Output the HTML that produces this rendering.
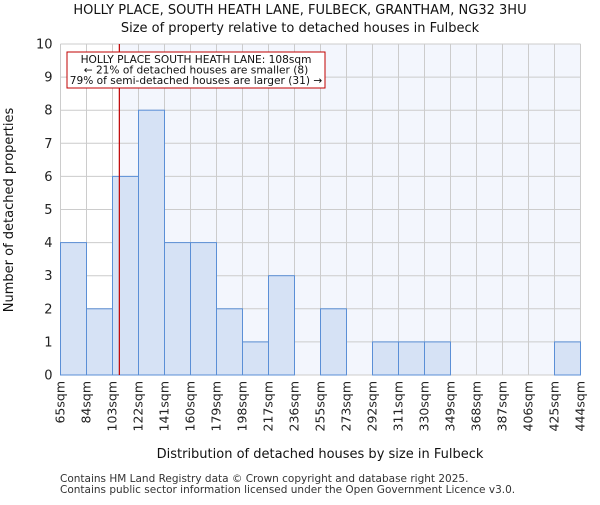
<!DOCTYPE html>
<html><head><meta charset="utf-8"><style>
body{margin:0;background:#fff}
svg{font-family:"DejaVu Sans","Liberation Sans",sans-serif}
</style></head><body>
<svg width="600" height="500">
<g id="root"></g>
</svg>
<script>
const binLabels=["65sqm","84sqm","103sqm","122sqm","141sqm","160sqm","179sqm","198sqm","217sqm","236sqm","255sqm","273sqm","292sqm","311sqm","330sqm","349sqm","368sqm","387sqm","406sqm","425sqm","444sqm"];
const counts=[4,2,6,8,4,4,2,1,3,0,2,0,1,1,1,0,0,0,0,1];
const yTicks=[0,1,2,3,4,5,6,7,8,9,10];
const binEdges=[65,84,103,122,141,160,179,198,217,236,255,273,292,311,330,349,368,387,406,425,444];
const propertySize=108;
const L=60.5,R=580.5,T=44,B=375,yMax=10;
const bw=(R-L)/counts.length;
const ns="http://www.w3.org/2000/svg";
const root=document.getElementById('root');
function y(v){return B-(v/yMax)*(B-T);}
function xi(i){return L+i*bw;}
function xv(v){for(let i=0;i<binEdges.length-1;i++){if(v<=binEdges[i+1])return xi(i)+(v-binEdges[i])/(binEdges[i+1]-binEdges[i])*bw;}return R;}
function mk(t,a,txt){const e=document.createElementNS(ns,t);for(const k in a)e.setAttribute(k,a[k]);if(txt!==undefined)e.textContent=txt;root.appendChild(e);return e;}
const px=xv(propertySize);
let e;
e=mk('rect',{x:px,y:T,width:R-px,height:B-T,fill:'#f3f6fd'});


yTicks.forEach(v=>{e=mk('line',{x1:L,x2:R,y1:y(v),y2:y(v),stroke:'#cccccc','stroke-width':1});

});
for(let i=0;i<=counts.length;i++){e=mk('line',{x1:xi(i),x2:xi(i),y1:T,y2:B,stroke:'#cccccc','stroke-width':1});

}
counts.forEach((c,i)=>{if(c>0){e=mk('rect',{x:xi(i),y:y(c),width:bw,height:B-y(c),fill:'#d6e2f5',stroke:'#5b8fd6','stroke-width':1});

}});
e=mk('line',{x1:px,x2:px,y1:T,y2:B,stroke:'#c00000','stroke-width':1.2});


yTicks.forEach(v=>{e=mk('text',{x:L-8,y:y(v)+4.5,'text-anchor':'end','font-size':13,fill:'#222'},v);

});
binLabels.forEach((l,i)=>{const xx=xi(i)+4;e=mk('text',{x:xx,y:381,'text-anchor':'end','font-size':12.5,fill:'#222',transform:`rotate(-90 ${xx} 381)`},l);

});
e=mk('rect',{x:67,y:52,width:258,height:36,fill:'#fff',stroke:'#c00000','stroke-width':1});


[["HOLLY PLACE SOUTH HEATH LANE: 108sqm",63],["← 21% of detached houses are smaller (8)",73.5],["79% of semi-detached houses are larger (31) →",84]].forEach(a=>{e=mk('text',{x:196,y:a[1],'text-anchor':'middle','font-size':10.6,fill:'#111'},a[0]);

});
e=mk('text',{x:300,y:14,'text-anchor':'middle','font-size':13,fill:'#111'},"HOLLY PLACE, SOUTH HEATH LANE, FULBECK, GRANTHAM, NG32 3HU");


e=mk('text',{x:300,y:32,'text-anchor':'middle','font-size':13,fill:'#111'},"Size of property relative to detached houses in Fulbeck");


e=mk('text',{x:320,y:458,'text-anchor':'middle','font-size':13,fill:'#111'},"Distribution of detached houses by size in Fulbeck");


e=mk('text',{x:13,y:210,'text-anchor':'middle','font-size':13,fill:'#111',transform:'rotate(-90 13 210)'},"Number of detached properties");


e=mk('text',{x:60,y:482,'font-size':10.5,fill:'#333'},"Contains HM Land Registry data © Crown copyright and database right 2025.");


e=mk('text',{x:60,y:493,'font-size':10.5,fill:'#333'},"Contains public sector information licensed under the Open Government Licence v3.0.");


</script>
</body></html>
